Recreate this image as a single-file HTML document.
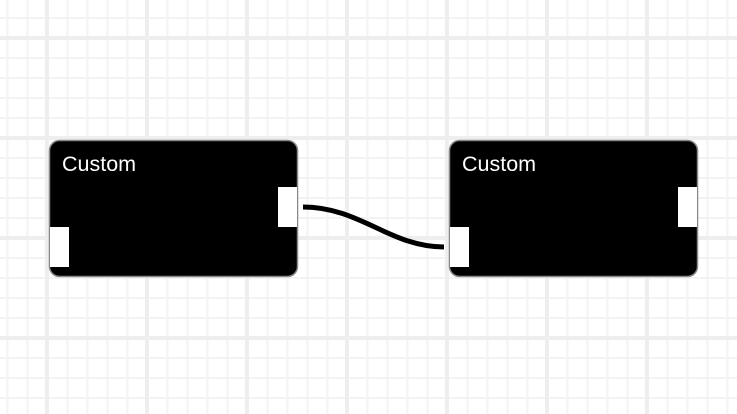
<!DOCTYPE html>
<html><head><style>
html,body{margin:0;padding:0;width:737px;height:414px;overflow:hidden;background:#fff}
</style></head><body>
<svg width="737" height="414" xmlns="http://www.w3.org/2000/svg">
<defs>
<pattern id="m" x="6.5" y="17" width="20" height="20" patternUnits="userSpaceOnUse">
<rect x="0" y="0" width="2" height="20" fill="#f3f3f3"/>
<rect x="0" y="0" width="20" height="2" fill="#f3f3f3"/>
</pattern>
<pattern id="M" x="45" y="36" width="100" height="100" patternUnits="userSpaceOnUse">
<rect x="0" y="0" width="4" height="100" fill="#eeeeee"/>
<rect x="0" y="0" width="100" height="4" fill="#eeeeee"/>
</pattern>
</defs>
<rect width="737" height="414" fill="url(#m)"/>
<rect width="737" height="414" fill="url(#M)"/>
<path d="M303,207 C360,207 390,247 444,247" stroke="#000" stroke-width="5" fill="none"/>
<g>
<rect x="49.5" y="140.5" width="248" height="136" rx="10" fill="#000" stroke="#888" stroke-width="1.5"/>
<rect x="278" y="187" width="19" height="40" fill="#fff"/>
<rect x="50" y="227" width="19" height="40" fill="#fff"/>
<text x="62" y="171" font-family="Liberation Sans, sans-serif" font-size="21.5" fill="#fff">Custom</text>
</g>
<g>
<rect x="449.5" y="140.5" width="248" height="136" rx="10" fill="#000" stroke="#888" stroke-width="1.5"/>
<rect x="678" y="187" width="19" height="40" fill="#fff"/>
<rect x="450" y="227" width="19" height="40" fill="#fff"/>
<text x="462" y="171" font-family="Liberation Sans, sans-serif" font-size="21.5" fill="#fff">Custom</text>
</g>
</svg>
</body></html>
